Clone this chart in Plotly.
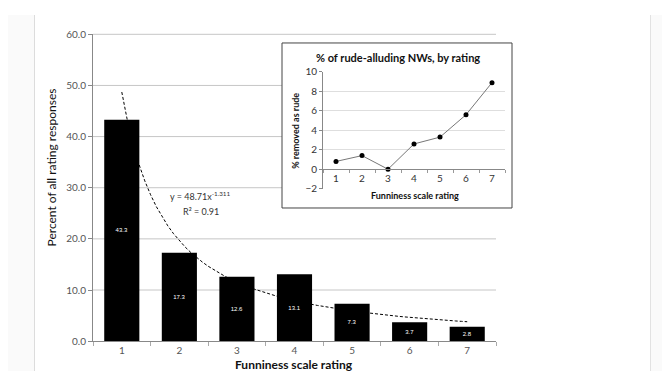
import plotly.graph_objects as go

# ---- data ----
ratings = [1, 2, 3, 4, 5, 6, 7]
pct_responses = [43.3, 17.3, 12.6, 13.1, 7.3, 3.7, 2.8]
bar_labels = ["43.3", "17.3", "12.6", "13.1", "7.3", "3.7", "2.8"]
pct_rude = [0.8, 1.4, 0.0, 2.6, 3.3, 5.6, 8.9]
main_yticks = [0, 10, 20, 30, 40, 50, 60]
inset_yticks = [-2, 0, 2, 4, 6, 8, 10]
trend_a = 48.71
trend_b = -1.311

W, H = 670, 371
def px(x):
    return x / W
def py(y):
    return (H - y) / H

FONT = "Lato, 'Open Sans', sans-serif"

MAIN_X_DOM = [px(85), px(488)]
MAIN_Y_DOM = [py(338), py(20)]
MAIN_Y_RANGE = [0, 60]

trend_x = [1 + i * 0.1 for i in range(61)]
trend_y = [trend_a * x ** trend_b for x in trend_x]

fig = go.Figure()
fig.add_trace(go.Bar(
    x=ratings, y=pct_responses, marker=dict(color="black", line=dict(width=0)),
    text=bar_labels, textposition="inside", insidetextanchor="middle",
    textfont=dict(color="white", size=6, family="Arial Black, Arial, sans-serif"),
    width=0.61, xaxis="x", yaxis="y", showlegend=False, hoverinfo="skip",
))
fig.add_trace(go.Scatter(
    x=trend_x, y=trend_y, mode="lines",
    line=dict(color="black", width=1, dash="3px,2px"),
    xaxis="x", yaxis="y", showlegend=False, hoverinfo="skip",
))
fig.add_trace(go.Scatter(
    x=ratings, y=pct_rude, mode="lines+markers",
    line=dict(color="#777", width=1),
    marker=dict(color="black", size=5),
    xaxis="x2", yaxis="y2", showlegend=False, hoverinfo="skip",
))

shapes = [
    # side strips
    dict(type="rect", xref="paper", yref="paper", x0=0, x1=px(26), y0=0, y1=1,
         fillcolor="#fafafa", line=dict(width=0), layer="below"),
    dict(type="line", xref="paper", yref="paper", x0=px(26.5), x1=px(26.5), y0=0, y1=1,
         line=dict(color="#dcdcdc", width=1), layer="below"),
    dict(type="rect", xref="paper", yref="paper", x0=px(642), x1=1, y0=0, y1=1,
         fillcolor="#fafafa", line=dict(width=0), layer="below"),
    dict(type="line", xref="paper", yref="paper", x0=px(642.5), x1=px(642.5), y0=0, y1=1,
         line=dict(color="#e2e2e2", width=1), layer="below"),
]
# main gridlines (paper-referenced so the inset box can cover them)
for v in main_yticks[1:]:
    yp = MAIN_Y_DOM[0] + (v - MAIN_Y_RANGE[0]) / (MAIN_Y_RANGE[1] - MAIN_Y_RANGE[0]) * (MAIN_Y_DOM[1] - MAIN_Y_DOM[0])
    shapes.append(dict(type="line", xref="paper", yref="paper", x0=MAIN_X_DOM[0], x1=MAIN_X_DOM[1],
                       y0=yp, y1=yp, line=dict(color="#c6c6c6", width=1), layer="below"))
# inset box (drawn after the main gridlines)
shapes.append(dict(type="rect", xref="paper", yref="paper", x0=px(274), x1=px(504), y0=py(200), y1=py(29),
                   fillcolor="white", line=dict(color="#444", width=1), layer="below"))

def ann(text, x, y, size, color="#111", angle=0):
    return dict(text=text, x=px(x), y=py(y), xref="paper", yref="paper", xanchor="center",
                yanchor="middle", textangle=angle, showarrow=False,
                font=dict(family=FONT, size=size, color=color))

annotations = [
    ann("y = 48.71x<sup>-1.311</sup>", 193, 188, 9, "#333"),
    ann("R² = 0.91", 193, 204, 9, "#333"),
    ann("Percent of all rating responses", 43, 158, 12, "#111", -90),
    ann("<b>Funniness scale rating</b>", 286, 362, 12),
    ann("<b>% of rude-alluding NWs, by rating</b>", 390, 44, 11),
    ann("<b>% removed as rude</b>", 288, 120, 9, "#111", -90),
    ann("<b>Funniness scale rating</b>", 407, 187, 9),
]

fig.update_layout(
    width=W, height=H,
    margin=dict(l=0, r=0, t=0, b=0),
    paper_bgcolor="white", plot_bgcolor="rgba(255,255,255,0)",
    showlegend=False,
    font=dict(family=FONT, color="#444"),
    shapes=shapes, annotations=annotations,
    xaxis=dict(domain=MAIN_X_DOM, range=[0.5, 7.5], tickvals=ratings,
               showline=True, linecolor="#888", linewidth=1, ticks="",
               minor=dict(tickvals=[0.5 + i for i in range(8)], ticks="outside", ticklen=4, tickcolor="#aaa"),
               showgrid=False, zeroline=False, tickfont=dict(size=10, color="#555"),
               anchor="y"),
    yaxis=dict(domain=MAIN_Y_DOM, range=MAIN_Y_RANGE, tickvals=main_yticks,
               tickformat=".1f", showline=True, linecolor="#888", linewidth=1,
               ticks="outside", ticklen=4, tickcolor="#888",
               showgrid=False, zeroline=False,
               tickfont=dict(size=10, color="#555"), anchor="x"),
    xaxis2=dict(domain=[px(315), px(497)], range=[0.5, 7.5], tickvals=ratings,
                anchor="free", position=py(160), showline=True, linecolor="#888", linewidth=1,
                ticks="", minor=dict(tickvals=[0.5 + i for i in range(8)], ticks="outside", ticklen=3, tickcolor="#999"),
                showgrid=False, zeroline=False, tickfont=dict(size=10, color="#333")),
    yaxis2=dict(domain=[py(180), py(59)], range=[-2, 10], tickvals=inset_yticks,
                showline=True, linecolor="#888", linewidth=1, ticks="outside", ticklen=3, tickcolor="#888",
                showgrid=True, gridcolor="#dedede", zeroline=False,
                tickfont=dict(size=10, color="#333"), anchor="x2"),
)

fig.write_html("out.html")
